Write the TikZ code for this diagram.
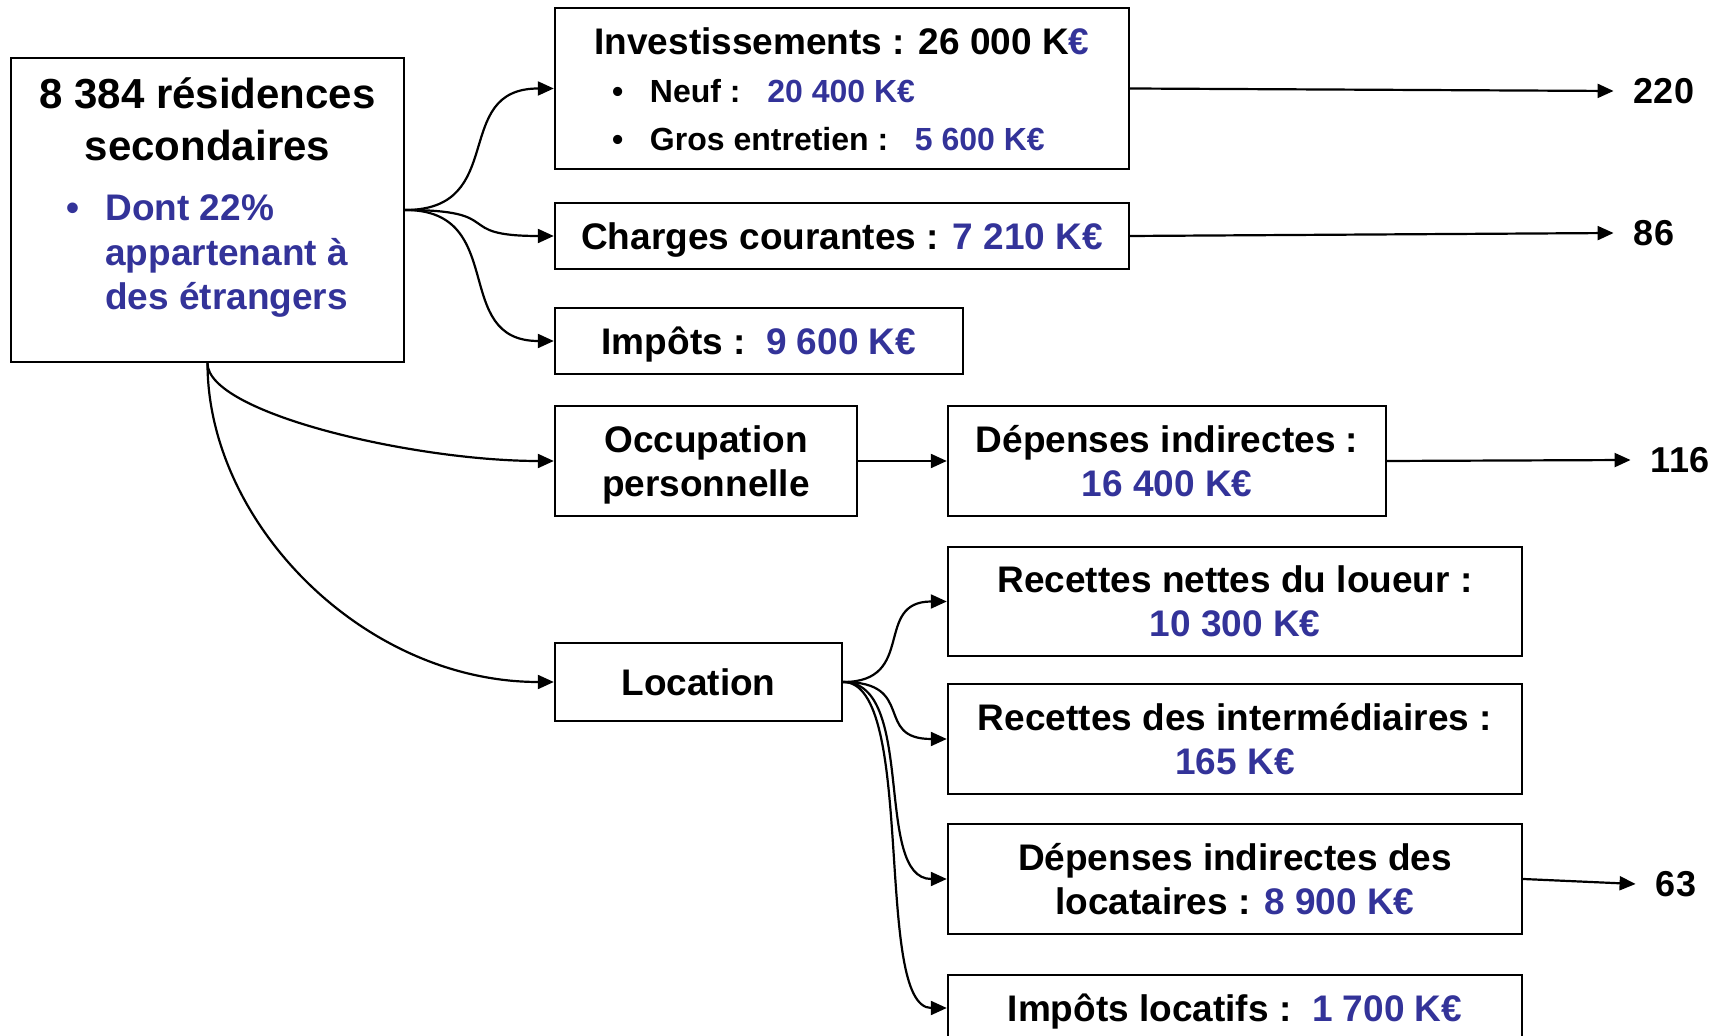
\documentclass[tikz,border=0pt]{standalone}
\usepackage{fontspec}
\setmainfont{Liberation Sans}
\usepackage{tikz}
\usepackage{xcolor}
\usetikzlibrary{positioning,arrows.meta}
\definecolor{valblue}{HTML}{333399}
\newcommand{\val}[1]{{\color{valblue}#1}}

\begin{document}
\begin{tikzpicture}[x=0.5pt,y=0.5pt,every node/.style={font=\bfseries\fontsize{18.5}{22}\selectfont}]
      \tikzstyle{box}=[draw,line width=1.2pt,align=center,inner sep=0pt];
      \tikzstyle{flat}=[box,text depth=0pt];
      \tikzstyle{num}=[inner xsep=10pt,inner ysep=2pt,font=\bfseries\fontsize{18}{22}\selectfont];
      \tikzstyle{link}=[line width=1.1pt,-{Triangle[length=8pt,width=7pt]}];
      \tikzstyle{wave}=[out=0,in=180,out distance=52pt,in distance=52pt];
      \tikzstyle{fan}=[out=0,in=180,out distance=37pt,in distance=37pt];
      \useasboundingbox (0,0) rectangle (1721,-1036);
      \clip (0,0) rectangle (1721,-1036);
      % owners
      \node[box,minimum width=196.5pt,minimum height=152pt,text depth=60.5pt,
            font=\bfseries\fontsize{21}{26}\selectfont] (res) at (207.5,-210)
           {8 384 résidences\\secondaires\\[4pt]
            {\fontsize{18.5}{22.25}\selectfont\color{valblue}%
             \begin{tabular}[t]{@{}c@{\hspace{12.7pt}}l@{}}\textbullet & Dont 22\%\\ & appartenant à\\ & des étrangers\end{tabular}}};
      % spending of the owners
      \node[box,minimum width=287pt,minimum height=80.5pt,text height=45.25pt,
            font=\bfseries\fontsize{18.5}{24.25}\selectfont] (inv) at (842,-88.5)
           {Investissements : 26 000 K\val{€}\\
            {\fontsize{16}{24}\selectfont\makebox[230pt][l]{%
             \begin{tabular}[t]{@{}c@{\hspace{13.4pt}}l@{}}\textbullet & Neuf :\ \ \ \val{20 400 K€}\\
              \textbullet & Gros entretien :\ \ \ \val{5 600 K€}\end{tabular}}}};
      \node[flat,minimum width=287pt,minimum height=33pt] (chg) at (842,-236) {Charges courantes : \val{7 210 K€}};
      \node[flat,minimum width=204pt,minimum height=33pt] (imp) at (759,-341) {Impôts :\ \ \val{9 600 K€}};
      \node[flat,minimum width=151pt,minimum height=55pt] (occ) at (706,-461) {Occupation\\personnelle};
      \node[flat,minimum width=219pt,minimum height=55pt] (dind) at (1167,-461) {Dépenses indirectes :\\\val{16 400 K€}};
      % renting
      \node[flat,minimum width=143.5pt,minimum height=39pt] (loc) at (698.5,-682) {Location};
      \node[flat,minimum width=287pt,minimum height=54.5pt] (recn) at (1235,-601.5) {Recettes nettes du loueur :\\\val{10 300 K€}};
      \node[flat,minimum width=287pt,minimum height=55pt] (reci) at (1235,-739) {Recettes des intermédiaires :\\\val{165 K€}};
      \node[flat,minimum width=287pt,minimum height=55pt] (dloc) at (1235,-879) {Dépenses indirectes des\\locataires : \val{8 900 K€}};
      \node[flat,minimum width=287pt,minimum height=33pt] (iloc) at (1235,-1008) {Impôts locatifs :\ \ \val{1 700 K€}};
      % jobs
      \node[num] (n220) at (1664,-91)  {220};
      \node[num] (n86)  at (1654,-233) {86};
      \node[num] (n116) at (1680,-460) {116};
      \node[num] (n63)  at (1676,-884) {63};
      \draw[link] (res.east) to[wave] (inv.west);
      \draw[link] (res.east) to[wave] (chg.west);
      \draw[link] (res.east) to[wave] (imp.west);
      \draw[link] (res.south) to[out=-90,in=180,out distance=25pt,in distance=70pt] (occ.west);
      \draw[link] (res.south) to[out=-90,in=180,out distance=80pt,in distance=95pt] (loc.west);
      \draw[link] (occ.east) -- (dind.west);
      \draw[link] (loc.east) to[fan] (recn.west);
      \draw[link] (loc.east) to[fan] (reci.west);
      \draw[link] (loc.east) to[fan] (dloc.west);
      \draw[link] (loc.east) to[fan] (iloc.west);
      \draw[link] (inv.east) -- (n220.west);
      \draw[link] (chg.east) -- (n86.west);
      \draw[link] (dind.east) -- (n116.west);
      \draw[link] (dloc.east) -- (n63.west);
    \end{tikzpicture}
\end{document}
